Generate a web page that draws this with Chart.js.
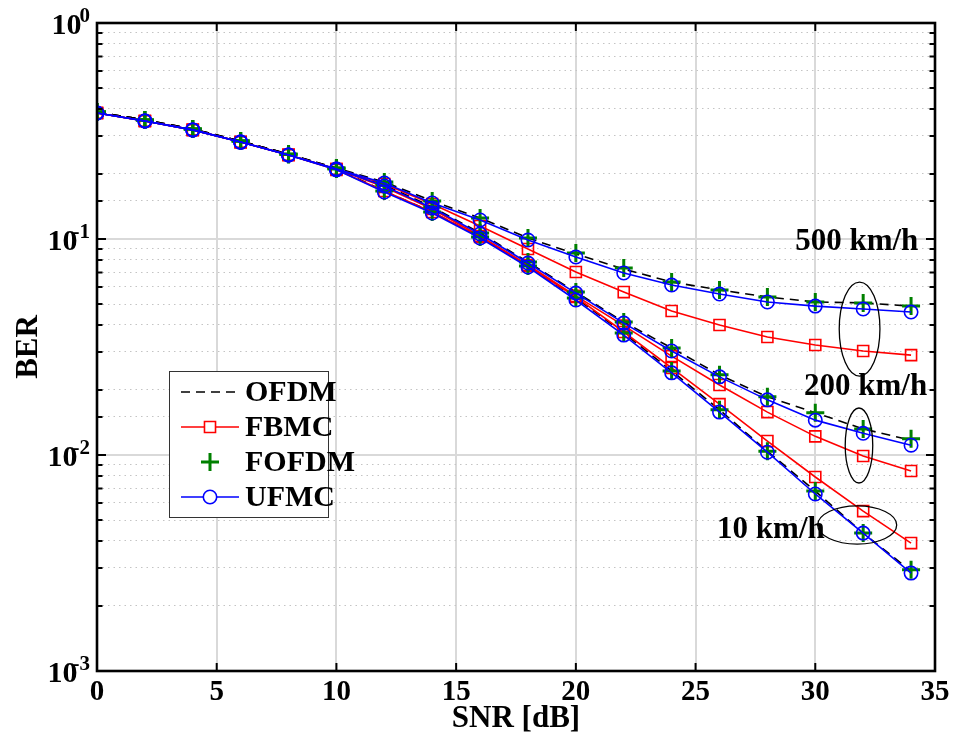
<!DOCTYPE html>
<html>
<head>
<meta charset="utf-8">
<script src="https://cdn.jsdelivr.net/npm/chart.js@4.4.1/dist/chart.umd.min.js"></script>
<style>
html,body{margin:0;padding:0;background:#fff;}
#wrap{width:955px;height:740px;}
</style>
</head>
<body>
<div id="wrap"><canvas id="c" width="955" height="740"></canvas></div>
<script>
// ---- data ----
const snr = [0,2,4,6,8,10,12,14,16,18,20,22,24,26,28,30,32,34];

const ofdm500  = [0.387,0.356,0.323,0.284,0.247,0.213,0.1836,0.1500,0.1251,0.1011,0.0852,0.0726,0.0632,0.0581,0.0539,0.0511,0.0506,0.0489];
const fbmc500  = [0.383,0.352,0.320,0.281,0.245,0.211,0.1797,0.1452,0.1149,0.0899,0.0703,0.0568,0.0464,0.0400,0.0352,0.0323,0.0303,0.0290];
const fofdm500 = [0.387,0.356,0.323,0.284,0.247,0.213,0.1836,0.1500,0.1251,0.1011,0.0861,0.0734,0.0632,0.0581,0.0539,0.0511,0.0506,0.0489];
const ufmc500  = [0.383,0.352,0.320,0.281,0.245,0.211,0.1816,0.1468,0.1225,0.0989,0.0825,0.0696,0.0612,0.0556,0.0511,0.0489,0.0474,0.0459];

const ofdm200  = [0.387,0.356,0.323,0.284,0.247,0.213,0.1778,0.1406,0.1066,0.0782,0.0568,0.0413,0.0313,0.0235,0.0186,0.0157,0.0132,0.0117];
const fbmc200  = [0.383,0.352,0.320,0.281,0.245,0.211,0.1740,0.1377,0.1032,0.0758,0.0545,0.0397,0.0287,0.0211,0.0158,0.0122,0.00989,0.00843];
const fofdm200 = [0.387,0.356,0.323,0.284,0.247,0.213,0.1778,0.1406,0.1066,0.0782,0.0568,0.0413,0.0313,0.0235,0.0186,0.0157,0.0132,0.0119];
const ufmc200  = [0.383,0.352,0.320,0.281,0.245,0.211,0.1759,0.1391,0.1055,0.0774,0.0562,0.0408,0.0303,0.0230,0.0180,0.0145,0.0126,0.0111];

const ofdm10   = [0.387,0.356,0.323,0.284,0.247,0.211,0.1668,0.1334,0.1021,0.0750,0.0533,0.0367,0.0245,0.0162,0.0104,0.00681,0.00435,0.00290];
const fbmc10   = [0.383,0.352,0.320,0.281,0.245,0.209,0.1668,0.1334,0.1021,0.0750,0.0539,0.0371,0.0253,0.0172,0.0116,0.00791,0.00550,0.00391];
const fofdm10  = [0.387,0.356,0.323,0.284,0.247,0.211,0.1668,0.1334,0.1021,0.0750,0.0533,0.0367,0.0245,0.0162,0.0104,0.00681,0.00435,0.00294];
const ufmc10   = [0.383,0.352,0.320,0.281,0.245,0.209,0.1651,0.1319,0.1011,0.0742,0.0522,0.0359,0.0240,0.0158,0.0103,0.00660,0.00435,0.00284];

const schemes = ['OFDM','FBMC','FOFDM','UFMC'];
const yTickLabels = ['10^0','10^-1','10^-2','10^-3'];
const xTitle = 'SNR [dB]';
const yTitle = 'BER';
// annotation texts and anchors (data coordinates)
const speedLabels = ['500 km/h','200 km/h','10 km/h'];
const speedLabelAnchors = [[29.16,0.0889],[29.53,0.01896],[25.9,0.00413]];
// ellipses: [xmin,xmax,yTop,yBottom] in data coords
const ellipses = [[31.0,32.7,0.0632,0.0232],[31.25,32.4,0.0165,0.00742],[30.1,33.4,0.00581,0.00387]];

const FONT = "'Liberation Serif','Times New Roman',serif";

function pts(arr){ return snr.map((x,i)=>({x:x,y:arr[i]})); }

const styles = {
  OFDM:  {borderColor:'#000000', borderWidth:1.6, borderDash:[9,6], pointRadius:0, showLine:true},
  FBMC:  {borderColor:'#ff0000', borderWidth:1.6, pointStyle:'rect', pointRadius:7.8, pointBorderWidth:1.6, pointBorderColor:'#ff0000', pointBackgroundColor:'rgba(0,0,0,0)', showLine:true},
  FOFDM: {borderColor:'#008000', borderWidth:0, pointStyle:'cross', pointRadius:9, pointBorderWidth:3, pointBorderColor:'#008000', pointBackgroundColor:'#008000', showLine:false},
  UFMC:  {borderColor:'#0000ff', borderWidth:1.6, pointStyle:'circle', pointRadius:6.7, pointBorderWidth:1.6, pointBorderColor:'#0000ff', pointBackgroundColor:'rgba(0,0,0,0)', showLine:true}
};

const seriesByScheme = {
  OFDM: [ofdm500, ofdm200, ofdm10],
  FBMC: [fbmc500, fbmc200, fbmc10],
  FOFDM:[fofdm500, fofdm200, fofdm10],
  UFMC: [ufmc500, ufmc200, ufmc10]
};

// Chart.js draws lower-index datasets on top, so UFMC goes first
const drawOrder = ['UFMC','FOFDM','FBMC','OFDM'];
const datasets = [];
drawOrder.forEach(s=>{
  seriesByScheme[s].forEach((arr,k)=>{
    datasets.push(Object.assign({label:s, data:pts(arr), tension:0, fill:false, pointHoverRadius:0, legendShow:k===0}, styles[s]));
  });
});

function isMajor(v){ const l=Math.log10(v); return Math.abs(l-Math.round(l))<1e-6; }

const framePlugin = {
  id:'frame',
  afterDraw(chart){
    const ctx=chart.ctx, a=chart.chartArea, xs=chart.scales.x, ys=chart.scales.y;
    ctx.save();
    // annotations
    ctx.fillStyle='#000';
    ctx.font="bold 31px "+FONT;
    ctx.textAlign='left'; ctx.textBaseline='alphabetic';
    speedLabels.forEach((t,i)=>{
      ctx.fillText(t, xs.getPixelForValue(speedLabelAnchors[i][0]), ys.getPixelForValue(speedLabelAnchors[i][1]));
    });
    ctx.strokeStyle='#000'; ctx.lineWidth=1.3;
    ellipses.forEach(e=>{
      const x1=xs.getPixelForValue(e[0]), x2=xs.getPixelForValue(e[1]);
      const y1=ys.getPixelForValue(e[2]), y2=ys.getPixelForValue(e[3]);
      ctx.beginPath();
      ctx.ellipse((x1+x2)/2,(y1+y2)/2,Math.abs(x2-x1)/2,Math.abs(y2-y1)/2,0,0,Math.PI*2);
      ctx.stroke();
    });
    // tick marks (inside)
    ctx.strokeStyle='#000'; ctx.lineWidth=2;
    ys.ticks.forEach(t=>{
      const y=ys.getPixelForValue(t.value);
      const len=isMajor(t.value)?9:5.5;
      ctx.beginPath();
      ctx.moveTo(a.left,y); ctx.lineTo(a.left+len,y);
      ctx.moveTo(a.right,y); ctx.lineTo(a.right-len,y);
      ctx.stroke();
    });
    xs.ticks.forEach(t=>{
      const x=xs.getPixelForValue(t.value);
      ctx.beginPath();
      ctx.moveTo(x,a.bottom); ctx.lineTo(x,a.bottom-8);
      ctx.moveTo(x,a.top); ctx.lineTo(x,a.top+8);
      ctx.stroke();
    });
    // frame
    ctx.lineWidth=2.6;
    ctx.strokeRect(a.left,a.top,a.right-a.left,a.bottom-a.top);
    // y decade labels with superscript
    ctx.fillStyle='#000';
    ctx.textBaseline='alphabetic';
    ys.ticks.filter(t=>isMajor(t.value)).forEach(t=>{
      const y=ys.getPixelForValue(t.value);
      const e=Math.round(Math.log10(t.value));
      const lab=yTickLabels[-e];
      const parts=lab.split('^');
      ctx.font="bold 21px "+FONT;
      const wSup=ctx.measureText(parts[1]).width;
      const rightX=90;
      ctx.textAlign='right';
      ctx.fillText(parts[1], rightX, y-1);
      ctx.font="bold 30px "+FONT;
      ctx.fillText(parts[0], rightX-wSup+(e<0?5:2), y+11);
    });
    // legend
    const L={x:169,y:371,w:159,h:146};
    ctx.fillStyle='#fff';
    ctx.fillRect(L.x,L.y,L.w,L.h);
    ctx.strokeStyle='#333'; ctx.lineWidth=1;
    ctx.strokeRect(L.x+0.5,L.y+0.5,L.w,L.h);
    const items=schemes.map(s=>chart.data.datasets.find(d=>d.legendShow && d.label===s));
    items.forEach((d,i)=>{
      const cy=L.y+21+i*35;
      const x1=L.x+12, x2=L.x+70, cx=(x1+x2)/2;
      if(d.showLine!==false){
        ctx.save();
        ctx.strokeStyle=d.borderColor; ctx.lineWidth=d.borderWidth;
        ctx.setLineDash(d.borderDash||[]);
        ctx.beginPath(); ctx.moveTo(x1,cy); ctx.lineTo(x2,cy); ctx.stroke();
        ctx.restore();
      }
      if(d.pointRadius>0){
        ctx.save();
        ctx.strokeStyle=d.pointBorderColor; ctx.lineWidth=d.pointBorderWidth;
        ctx.beginPath();
        if(d.pointStyle==='rect'){const s=d.pointRadius*Math.SQRT1_2; ctx.fillStyle='#fff'; ctx.fillRect(cx-s,cy-s,2*s,2*s); ctx.rect(cx-s,cy-s,2*s,2*s);}
        else if(d.pointStyle==='circle'){ctx.fillStyle='#fff'; ctx.arc(cx,cy,d.pointRadius,0,Math.PI*2); ctx.fill(); ctx.beginPath(); ctx.arc(cx,cy,d.pointRadius,0,Math.PI*2);}
        else if(d.pointStyle==='cross'){ctx.moveTo(cx-d.pointRadius,cy);ctx.lineTo(cx+d.pointRadius,cy);ctx.moveTo(cx,cy-d.pointRadius);ctx.lineTo(cx,cy+d.pointRadius);}
        ctx.stroke();
        ctx.restore();
      }
      ctx.fillStyle='#000';
      ctx.font="bold 30px "+FONT;
      ctx.textAlign='left'; ctx.textBaseline='middle';
      ctx.fillText(d.label, L.x+76, cy+1);
    });
    ctx.restore();
  }
};

new Chart(document.getElementById('c'), {
  type:'line',
  data:{datasets:datasets},
  plugins:[framePlugin],
  options:{
    responsive:false,
    animation:false,
    devicePixelRatio:1,
    layout:{padding:{left:0,top:23,right:20,bottom:0}},
    plugins:{legend:{display:false}, tooltip:{enabled:false}},
    elements:{line:{borderCapStyle:'butt'}},
    scales:{
      x:{
        type:'linear', min:0, max:35,
        afterFit(s){ s.height=69; },
        ticks:{stepSize:5, color:'#000', padding:4, font:{family:FONT,size:29,weight:'bold'}, maxRotation:0},
        grid:{drawTicks:false, lineWidth:2, color:(c)=> (c.tick && (c.tick.value===0||c.tick.value===35)) ? 'rgba(0,0,0,0)' : '#d9d9d9'},
        border:{display:false},
        title:{display:true, text:xTitle, color:'#000', font:{family:FONT,size:31,weight:'bold'}, padding:{top:0,bottom:2}}
      },
      y:{
        type:'logarithmic', min:0.001, max:1,
        afterFit(s){ s.width=97; },
        ticks:{display:false},
        grid:{drawTicks:false,
          lineWidth:(c)=> (c.tick && isMajor(c.tick.value)) ? 2 : 1,
          color:(c)=> (c.tick && isMajor(c.tick.value)) ? '#d9d9d9' : '#c4c4c4'},
        border:{display:false, dash:(c)=> (c.tick && isMajor(c.tick.value)) ? [] : [1.5,4]},
        title:{display:true, text:yTitle, color:'#000', font:{family:FONT,size:31,weight:'bold'}, padding:{top:10,bottom:0}}
      }
    }
  }
});
</script>
</body>
</html>
